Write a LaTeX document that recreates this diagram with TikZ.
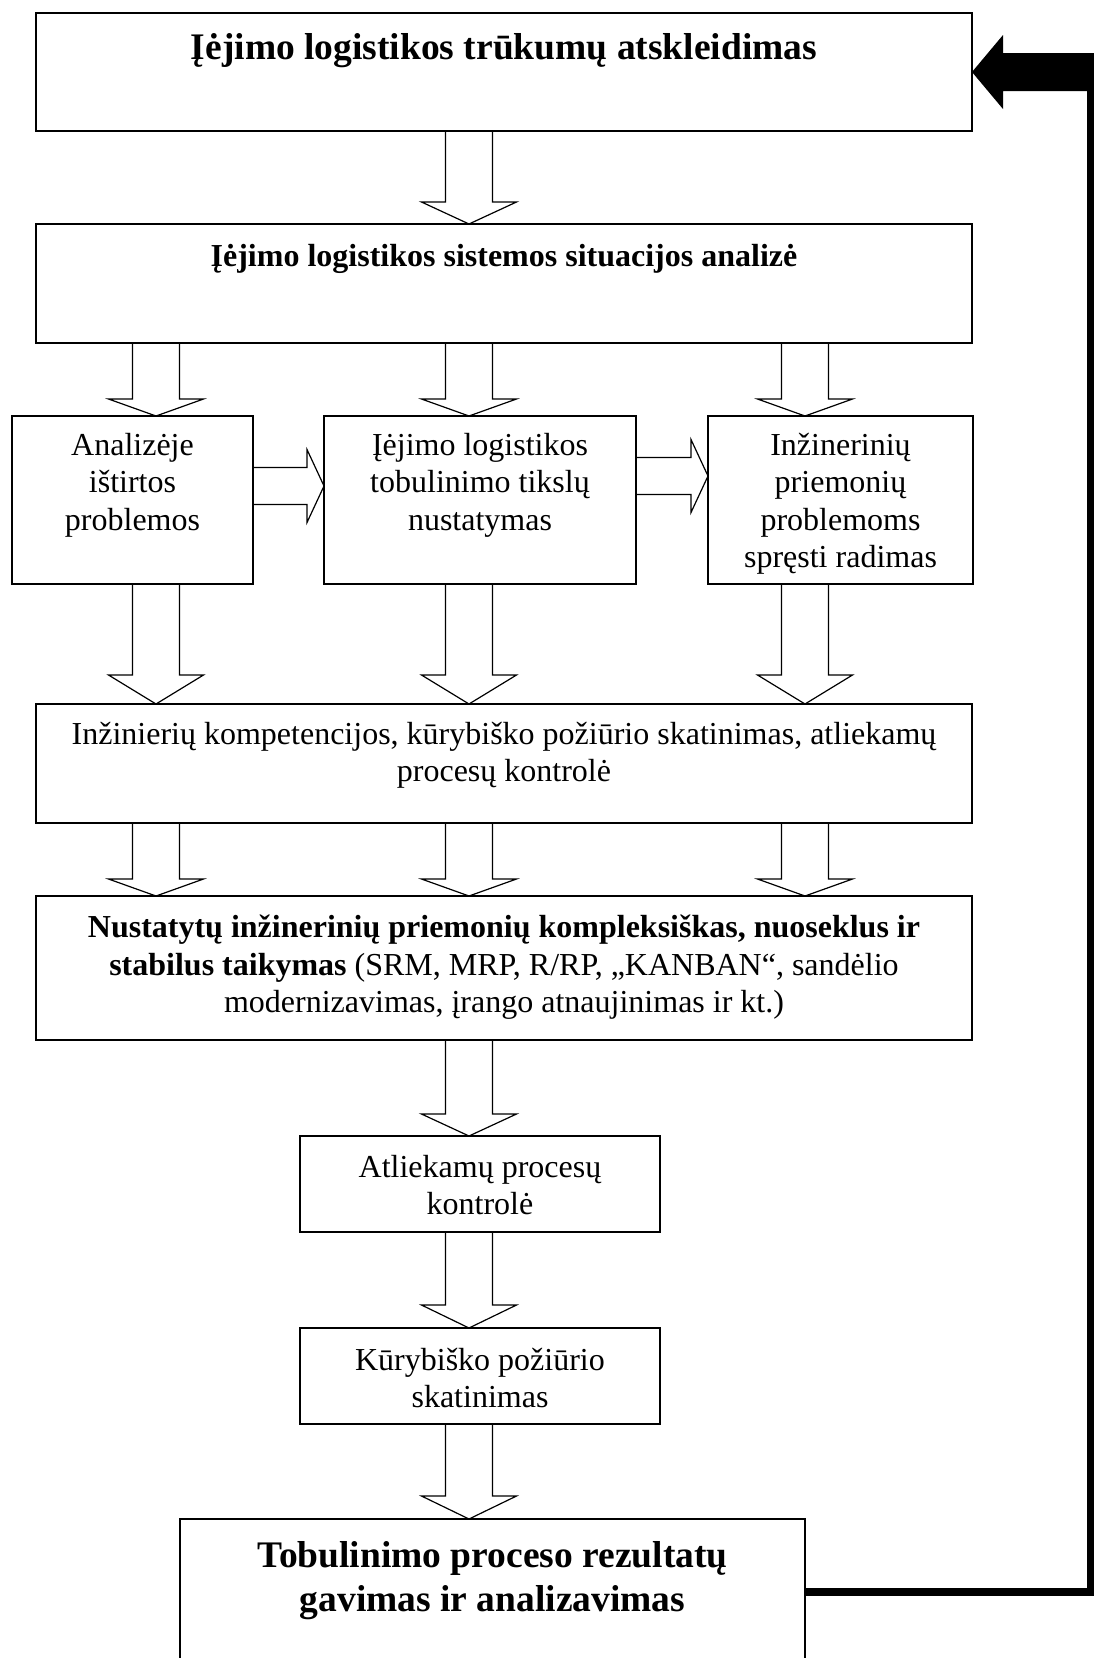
\documentclass[tikz,border=0pt]{standalone}
\usepackage{fontspec}
\setmainfont{Liberation Serif}
\usetikzlibrary{positioning, calc}
\newcommand{\normaltxt}{\fontsize{32}{37.5}\selectfont}
\newcommand{\midtitle}{\fontsize{32}{37.5}\selectfont\bfseries}
\newcommand{\bigtitle}{\fontsize{37.5}{44}\selectfont\bfseries}
% tuscia rodykle zemyn: [galvos ilgis]{pradzia}{smaigalys}
\newcommand{\hollowdown}[3][22]{%
  \draw[hollow] let \p1=(#2), \p2=(#3) in
    (\x1-23.5pt,\y1) -- (\x1-23.5pt,\y2+#1pt) -- (\x1-47.5pt,\y2+#1pt) -- (\x2,\y2)
    -- (\x1+47.5pt,\y2+#1pt) -- (\x1+23.5pt,\y2+#1pt) -- (\x1+23.5pt,\y1);}
% tuscia rodykle i desine
\newcommand{\hollowright}[3][17]{%
  \draw[hollow] let \p1=(#2), \p2=(#3) in
    (\x1,\y1+18.5pt) -- (\x2-#1pt,\y1+18.5pt) -- (\x2-#1pt,\y1+36.5pt) -- (\x2,\y2)
    -- (\x2-#1pt,\y1-36.5pt) -- (\x2-#1pt,\y1-18.5pt) -- (\x1,\y1-18.5pt);}
\tikzset{
    box/.style={rectangle, draw, line width=1.6pt, outer sep=0pt, inner sep=0pt},
    boxtext/.style={align=center, inner sep=0pt, font=\normaltxt},
    hollow/.style={line width=1.2pt},
    feedback/.style={line width=8pt},
}

\begin{document}
\begin{tikzpicture}[x=1pt, y=-1pt]
    \path[use as bounding box, clip] (0,0) rectangle (1094,1658);
    % Rodykliu stulpeliai
    \coordinate (colA) at (156,0);
    \coordinate (colB) at (469,0);
    \coordinate (colC) at (805,0);
    \coordinate (rowab) at (0,486);
    \coordinate (rowbc) at (0,476);

    % Trukumu atskleidimas
    \node[box, minimum width=936pt, minimum height=118pt] (gap) at (504,72) {};
    \node[boxtext, font=\bigtitle, below=20.5pt of gap.north] (gap-t) {Įėjimo logistikos trūkumų atskleidimas};

    % Situacijos analize
    \node[box, minimum width=936pt, minimum height=119pt] (sit) at (504,283.5) {};
    \node[boxtext, font=\midtitle, below=20pt of sit.north] (sit-t) {Įėjimo logistikos sistemos situacijos analizė};

    % Trys blokai
    \node[box, minimum width=241pt, minimum height=168pt] (probl) at (132.5,500) {};
    \node[boxtext, below=17pt of probl.north] (probl-t) {Analizėje\\ištirtos\\problemos};
    \node[box, minimum width=312pt, minimum height=168pt] (tiksl) at (480,500) {};
    \node[boxtext, below=17pt of tiksl.north] (tiksl-t) {Įėjimo logistikos\\tobulinimo tikslų\\nustatymas};
    \node[box, minimum width=265pt, minimum height=168pt] (prem) at (840.5,500) {};
    \node[boxtext, below=17pt of prem.north] (prem-t) {Inžinerinių\\priemonių\\problemoms\\spręsti radimas};

    % Kompetencijos
    \node[box, minimum width=936pt, minimum height=119pt] (komp) at (504,763.5) {};
    \node[boxtext, below=18pt of komp.north] (komp-t) {Inžinierių kompetencijos, kūrybiško požiūrio skatinimas, atliekamų\\procesų kontrolė};

    % Taikymas
    \node[box, minimum width=936pt, minimum height=144pt] (taik) at (504,968) {};
    \node[boxtext, below=19pt of taik.north] (taik-t) {\textbf{Nustatytų inžinerinių priemonių kompleksiškas, nuoseklus ir}\\\textbf{stabilus taikymas} (SRM, MRP, R/RP, „KANBAN“, sandėlio\\modernizavimas, įrango atnaujinimas ir kt.)};

    % Kontrole ir skatinimas
    \node[box, minimum width=360pt, minimum height=96pt] (kontr) at (480,1184) {};
    \node[boxtext, below=19pt of kontr.north] (kontr-t) {Atliekamų procesų\\kontrolė};
    \node[box, minimum width=360pt, minimum height=96pt] (skat) at (480,1376) {};
    \node[boxtext, below=20pt of skat.north] (skat-t) {Kūrybiško požiūrio\\skatinimas};

    % Rezultatai
    \node[box, minimum width=625pt, minimum height=146pt] (res) at (492.5,1592) {};
    \node[boxtext, font=\bigtitle, below=22pt of res.north] (res-t) {Tobulinimo proceso rezultatų\\gavimas ir analizavimas};

    % Rodykles
    \hollowdown{gap.south -| colB}{sit.north -| colB}
    \hollowdown[17]{sit.south -| colA}{probl.north -| colA}
    \hollowdown[17]{sit.south -| colB}{tiksl.north -| colB}
    \hollowdown[17]{sit.south -| colC}{prem.north -| colC}
    \hollowright{probl.east |- rowab}{tiksl.west |- rowab}
    \hollowright{tiksl.east |- rowbc}{prem.west |- rowbc}
    \hollowdown[29]{probl.south -| colA}{komp.north -| colA}
    \hollowdown[29]{tiksl.south -| colB}{komp.north -| colB}
    \hollowdown[29]{prem.south -| colC}{komp.north -| colC}
    \hollowdown[17]{komp.south -| colA}{taik.north -| colA}
    \hollowdown[17]{komp.south -| colB}{taik.north -| colB}
    \hollowdown[17]{komp.south -| colC}{taik.north -| colC}
    \hollowdown{taik.south -| colB}{kontr.north -| colB}
    \hollowdown[23]{kontr.south -| colB}{skat.north -| colB}
    \hollowdown[23]{skat.south -| colB}{res.north -| colB}

    % Griztamasis rysys
    \draw[feedback] (res.east) -| ($(gap.east)+(118.5,15)$);
    \fill (gap.east) -- ++(31,-37) -- ++(0,18) -- ++(91,0) -- ++(0,38) -- ++(-91,0) -- ++(0,18) -- cycle;
\end{tikzpicture}
\end{document}
